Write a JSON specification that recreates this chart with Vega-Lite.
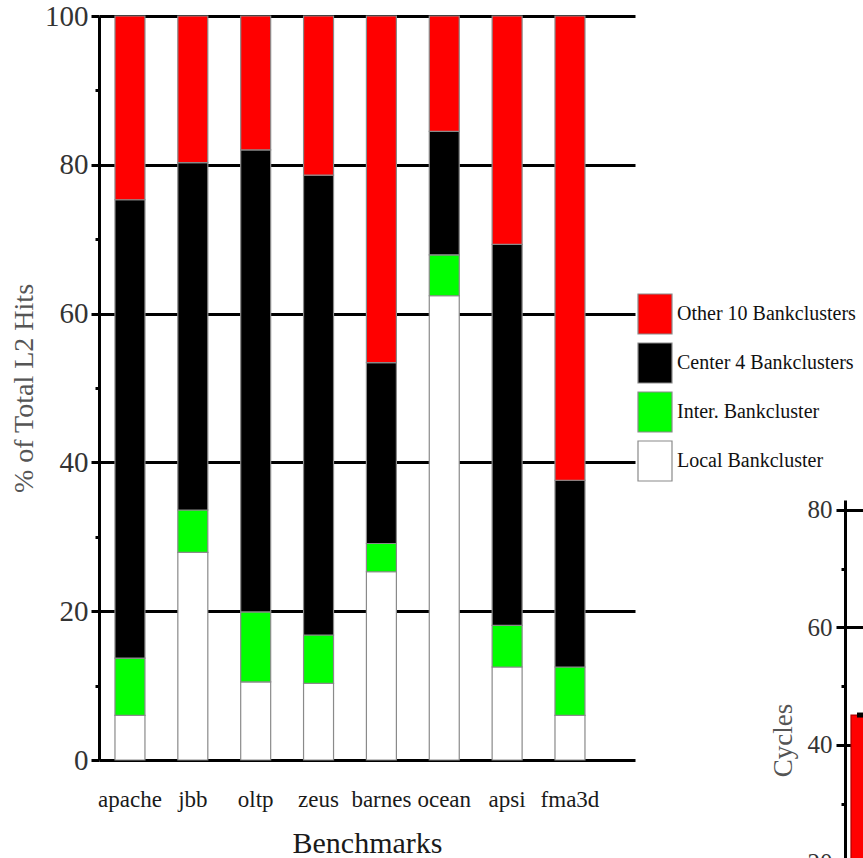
{
  "$schema": "https://vega.github.io/schema/vega-lite/v6.json",
  "background": "white",
  "padding": {"left": 10, "top": 2, "right": 0, "bottom": 0},
  "config": {
    "view": {"stroke": null},
    "font": "Liberation Serif",
    "concat": {"spacing": 210}
  },
  "bounds": "flush",
  "datasets": {
    "hits": [
      {"benchmark": "apache", "segment": "Local Bankcluster", "pct": 6.0},
      {"benchmark": "apache", "segment": "Inter. Bankcluster", "pct": 7.7},
      {"benchmark": "apache", "segment": "Center 4 Bankclusters", "pct": 61.6},
      {"benchmark": "apache", "segment": "Other 10 Bankclusters", "pct": 24.7},
      {"benchmark": "jbb", "segment": "Local Bankcluster", "pct": 27.9},
      {"benchmark": "jbb", "segment": "Inter. Bankcluster", "pct": 5.7},
      {"benchmark": "jbb", "segment": "Center 4 Bankclusters", "pct": 46.7},
      {"benchmark": "jbb", "segment": "Other 10 Bankclusters", "pct": 19.7},
      {"benchmark": "oltp", "segment": "Local Bankcluster", "pct": 10.5},
      {"benchmark": "oltp", "segment": "Inter. Bankcluster", "pct": 9.4},
      {"benchmark": "oltp", "segment": "Center 4 Bankclusters", "pct": 62.1},
      {"benchmark": "oltp", "segment": "Other 10 Bankclusters", "pct": 18.0},
      {"benchmark": "zeus", "segment": "Local Bankcluster", "pct": 10.3},
      {"benchmark": "zeus", "segment": "Inter. Bankcluster", "pct": 6.5},
      {"benchmark": "zeus", "segment": "Center 4 Bankclusters", "pct": 61.8},
      {"benchmark": "zeus", "segment": "Other 10 Bankclusters", "pct": 21.4},
      {"benchmark": "barnes", "segment": "Local Bankcluster", "pct": 25.3},
      {"benchmark": "barnes", "segment": "Inter. Bankcluster", "pct": 3.8},
      {"benchmark": "barnes", "segment": "Center 4 Bankclusters", "pct": 24.3},
      {"benchmark": "barnes", "segment": "Other 10 Bankclusters", "pct": 46.6},
      {"benchmark": "ocean", "segment": "Local Bankcluster", "pct": 62.4},
      {"benchmark": "ocean", "segment": "Inter. Bankcluster", "pct": 5.5},
      {"benchmark": "ocean", "segment": "Center 4 Bankclusters", "pct": 16.6},
      {"benchmark": "ocean", "segment": "Other 10 Bankclusters", "pct": 15.5},
      {"benchmark": "apsi", "segment": "Local Bankcluster", "pct": 12.5},
      {"benchmark": "apsi", "segment": "Inter. Bankcluster", "pct": 5.6},
      {"benchmark": "apsi", "segment": "Center 4 Bankclusters", "pct": 51.2},
      {"benchmark": "apsi", "segment": "Other 10 Bankclusters", "pct": 30.7},
      {"benchmark": "fma3d", "segment": "Local Bankcluster", "pct": 6.0},
      {"benchmark": "fma3d", "segment": "Inter. Bankcluster", "pct": 6.5},
      {"benchmark": "fma3d", "segment": "Center 4 Bankclusters", "pct": 25.1},
      {"benchmark": "fma3d", "segment": "Other 10 Bankclusters", "pct": 62.4}
    ],
    "cycles": [
      {"group": "L2", "cycles": 45.1}
    ]
  },
  "hconcat": [
    {
      "width": 536,
      "height": 744,
      "data": {"name": "hits"},
      "transform": [
        {"calculate": "indexof(['Local Bankcluster', 'Inter. Bankcluster', 'Center 4 Bankclusters', 'Other 10 Bankclusters'], datum.segment)", "as": "stackOrder"}
      ],
      "mark": {"type": "bar", "stroke": "#8a8a8a", "strokeWidth": 1.2},
      "encoding": {
        "x": {
          "field": "benchmark",
          "type": "nominal",
          "sort": ["apache", "jbb", "oltp", "zeus", "barnes", "ocean", "apsi", "fma3d"],
          "scale": {"paddingInner": 0.523, "paddingOuter": 0.525, "align": 0.242},
          "axis": {
            "title": "Benchmarks",
            "titleFont": "Liberation Serif",
            "titleFontSize": 30,
            "titleFontWeight": "normal",
            "titleColor": "#1a1a1a",
            "titlePadding": 17,
            "labelFont": "Liberation Serif",
            "labelFontSize": 23,
            "labelColor": "#1a1a1a",
            "labelAngle": 0,
            "labelPadding": 28,
            "ticks": false,
            "domain": false,
            "grid": false
          }
        },
        "y": {
          "field": "pct",
          "type": "quantitative",
          "stack": "zero",
          "scale": {"domain": [0, 100], "nice": false},
          "axis": {
            "title": "% of Total L2 Hits",
            "titleFont": "Liberation Serif",
            "titleFontSize": 28,
            "titleFontWeight": "normal",
            "titleColor": "#555555",
            "titlePadding": 6,
            "values": [0, 10, 20, 30, 40, 50, 60, 70, 80, 90, 100],
            "labelExpr": "datum.value % 20 === 0 ? datum.label : ''",
            "labelFont": "Liberation Serif",
            "labelFontSize": 29,
            "labelColor": "#333333",
            "labelPadding": 3,
            "tickColor": "black",
            "tickWidth": 3,
            "tickSize": {"condition": {"test": "datum.value % 20 === 0", "value": 8}, "value": 4},
            "domainColor": "black",
            "domainWidth": 3,
            "grid": true,
            "gridColor": "black",
            "gridWidth": 3,
            "gridOpacity": {"condition": {"test": "datum.value % 20 === 0", "value": 1}, "value": 0}
          }
        },
        "order": {"field": "stackOrder", "type": "quantitative", "sort": "ascending"},
        "color": {
          "field": "segment",
          "type": "nominal",
          "scale": {
            "domain": ["Local Bankcluster", "Inter. Bankcluster", "Center 4 Bankclusters", "Other 10 Bankclusters"],
            "range": ["#ffffff", "#00ff00", "#000000", "#ff0000"]
          },
          "legend": {
            "title": null,
            "orient": "none",
            "legendX": 535,
            "legendY": 277,
            "padding": 0,
            "values": ["Other 10 Bankclusters", "Center 4 Bankclusters", "Inter. Bankcluster", "Local Bankcluster"],
            "symbolType": "M-0.85,-1H0.85V1H-0.85Z",
            "symbolSize": 1600,
            "symbolStrokeColor": "#8a8a8a",
            "symbolStrokeWidth": 1.2,
            "symbolOpacity": 1,
            "rowPadding": 3,
            "labelOffset": 1,
            "labelFont": "Liberation Serif",
            "labelFontSize": 20,
            "labelColor": "#111111",
            "labelLimit": 400
          }
        }
      }
    },
    {
      "width": 100,
      "height": 964,
      "data": {"name": "cycles"},
      "layer": [
        {
          "mark": {"type": "bar", "color": "#ff0000", "stroke": "#b00000", "strokeWidth": 1.2, "size": 24},
          "encoding": {
            "x": {
              "field": "group",
              "type": "nominal",
              "scale": {"range": [0, 36], "paddingInner": 0, "paddingOuter": 0},
              "axis": null
            },
            "y": {
              "field": "cycles",
              "type": "quantitative",
              "scale": {"domain": [0, 81.7], "range": [964, 484], "nice": false},
              "axis": {
                "title": "Cycles",
                "titleFont": "Liberation Serif",
                "titleFontSize": 27,
                "titleFontWeight": "normal",
                "titleColor": "#555555",
                "titlePadding": 10,
                "values": [20, 30, 40, 50, 60, 70, 80],
                "labelExpr": "datum.value % 20 === 0 ? datum.label : ''",
                "labelFont": "Liberation Serif",
                "labelFontSize": 25,
                "labelColor": "#333333",
                "labelPadding": 4,
                "tickColor": "black",
                "tickWidth": 3,
                "tickSize": {"condition": {"test": "datum.value % 20 === 0", "value": 9}, "value": 4},
                "domainColor": "black",
                "domainWidth": 3,
                "grid": true,
                "gridColor": "black",
                "gridWidth": 3,
                "gridOpacity": {"condition": {"test": "datum.value % 20 === 0", "value": 1}, "value": 0}
              }
            }
          }
        },
        {
          "mark": {"type": "tick", "color": "black", "size": 12, "thickness": 5, "opacity": 1},
          "encoding": {
            "x": {"field": "group", "type": "nominal"},
            "y": {"field": "cycles", "type": "quantitative"}
          }
        }
      ]
    }
  ]
}
